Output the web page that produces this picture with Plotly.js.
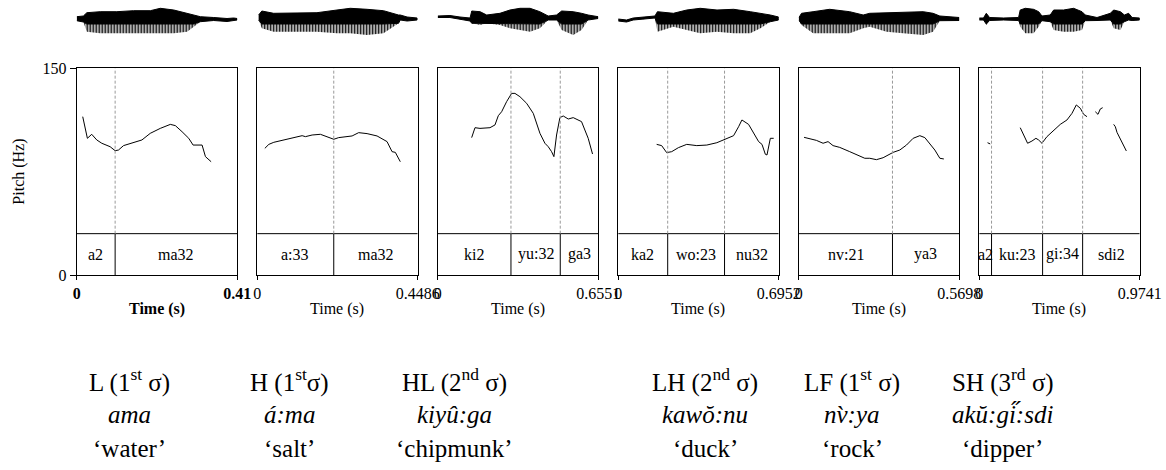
<!DOCTYPE html>
<html>
<head>
<meta charset="utf-8">
<script src="https://cdn.plot.ly/plotly-3.0.1.min.js"></script>
<style>html,body{margin:0;padding:0;background:#fff}#chart{width:1166px;height:470px}</style>
</head>
<body>
<div id="chart"></div>
<script>
// ---------- DATA ----------
const panelEnds = [0.41, 0.4486, 0.6551, 0.6952, 0.5698, 0.9741];
const endLabels = ['0.41', '0.4486', '0.6551', '0.6952', '0.5698', '0.9741'];

// pitch tracks (time s, Hz)
const p1Time = [0.0154,0.0273,0.0384,0.0513,0.0641,0.0854,0.0982,0.1068,0.1196,0.1409,0.1666,0.1879,0.2135,0.2392,0.2520,0.2691,0.2862,0.2973,0.3075,0.3203,0.3289,0.3434];
const p1Hz   = [114.9,99.2,102.1,98.0,95.6,93.1,90.2,90.7,93.9,95.6,98.0,102.8,106.4,109.3,108.4,104.0,99.2,94.3,94.3,94.3,85.9,82.2];
const p2Time = [0.0213,0.0325,0.0464,0.0743,0.1022,0.1256,0.1348,0.1535,0.1767,0.1954,0.2140,0.2278,0.2652,0.2836,0.3071,0.3350,0.3629,0.3769,0.3861,0.4000];
const p2Hz   = [91.9,94.8,96.3,98.0,99.2,101.1,100.4,101.6,102.1,100.4,98.5,99.7,100.9,103.3,102.6,100.9,96.8,89.5,89.0,82.2];
const p3Time = [0.1386,0.1522,0.1726,0.2134,0.2338,0.2474,0.2610,0.2813,0.3017,0.3153,0.3357,0.3629,0.3901,0.4173,0.4376,0.4512,0.4648,0.4743,0.4852,0.4988,0.5124,0.5328,0.5532,0.5736,0.5871,0.6007,0.6143,0.6320];
const p3Hz   = [99.7,106.9,106.4,106.9,108.9,115.6,118.5,125.8,131.8,131.8,129.4,124.6,117.3,102.8,95.6,93.1,89.5,85.9,101.6,114.2,115.4,113.2,114.2,112.5,111.3,105.2,99.2,87.8];
const p4Time = [0.1666,0.1883,0.2100,0.2317,0.2607,0.2969,0.3404,0.3838,0.4273,0.4562,0.4779,0.4997,0.5214,0.5359,0.5648,0.5866,0.6083,0.6228,0.6373,0.6445,0.6590,0.6735];
const p4Hz   = [94.8,93.9,88.8,89.5,92.4,94.8,93.9,94.3,96.0,98.0,99.2,101.1,107.6,112.5,109.3,102.8,96.8,94.8,87.6,87.1,99.2,99.2];
const p5Time = [0.0190,0.0391,0.0628,0.0865,0.1042,0.1220,0.1457,0.1812,0.2109,0.2346,0.2523,0.2760,0.2997,0.3352,0.3589,0.3826,0.4063,0.4300,0.4478,0.4655,0.4833,0.5011,0.5153];
const p5Hz   = [99.9,98.7,97.7,95.6,96.8,93.9,92.6,89.5,87.1,84.7,84.7,83.7,85.1,89.0,90.7,94.3,99.2,101.1,99.7,95.6,90.7,84.7,84.2];
const p6Time = [0.0506,0.0668,null,0.2491,0.2693,0.2936,0.3200,0.3443,0.3605,0.3807,0.4111,0.4516,0.4921,0.5326,0.5630,0.5893,0.6136,0.6339,0.6541,null,0.7047,0.7209,0.7351,0.7493,null,0.8161,0.8262,0.8364,0.8668,0.8931];
const p6Hz   = [96.0,95.1,null,106.9,101.6,95.6,97.2,99.2,98.0,95.6,100.4,105.2,109.3,112.5,117.3,123.4,121.0,116.6,114.9,null,118.5,116.6,120.5,121.4,null,109.3,107.6,103.5,96.8,90.0];

// segment boundaries (s) and syllable labels
const p1Bounds = [0.0982];
const p2Bounds = [0.2140];
const p3Bounds = [0.2990, 0.5002];
const p4Bounds = [0.2144, 0.4606];
const p5Bounds = [0.3329];
const p6Bounds = [0.0749, 0.3848, 0.6278];
const p1Labels = ['a2', 'ma32'];
const p2Labels = ['a:33', 'ma32'];
const p3Labels = ['ki2', 'yu:32', 'ga3'];
const p4Labels = ['ka2', 'wo:23', 'nu32'];
const p5Labels = ['nv:21', 'ya3'];
const p6Labels = ['a2', 'ku:23', 'gi:34', 'sdi2'];

// waveform envelopes (time s, upper / lower amplitude)
const w1Time = [0,0.017,0.026,0.060,0.1025,0.145,0.188,0.2135,0.248,0.282,0.299,0.316,0.350,0.384,0.401,0.41];
const w1Up   = [2.3,3,6.3,7.3,7.3,8.3,8.3,10.7,9,5.7,4,2.3,1.5,0.5,1,0.5];
const w1Low  = [-1.7,-3,-12.7,-14.3,-14.3,-14.3,-14.3,-14.3,-14.3,-12.7,-7.7,-2.7,-1.5,-2.5,-1.5,-1];
const w2Time = [0.004,0.013,0.046,0.1016,0.167,0.223,0.260,0.307,0.353,0.395,0.400,0.419,0.447];
const w2Up   = [4,8,5.7,6.3,6.3,9,10.7,9.7,8.3,4,4,2,1];
const w2Low  = [-1,-9.3,-12.7,-12.7,-12.7,-14.3,-14.3,-16,-14.3,-4.3,-1,-2,-1];
const w3Time = [0,0.050,0.091,0.132,0.139,0.173,0.200,0.254,0.295,0.336,0.377,0.417,0.451,0.485,0.506,0.553,0.587,0.614,0.655];
const w3Up   = [3,3.5,2,1,8,7.3,4,5.7,9,10.7,10.7,7.3,3,4,8,7.3,5.7,4,2.3];
const w3Low  = [1.5,1.5,0,-2,-4.3,-6,-4.3,-6,-9.3,-11,-12.7,-9.3,-1,-1,-11,-16,-11,-1,0.5];
const w4Time = [0,0.036,0.065,0.123,0.159,0.170,0.239,0.297,0.355,0.428,0.500,0.572,0.616,0.659,0.695];
const w4Up   = [0,-1,1,2,3,7.3,5.7,9,10.7,9,9.7,7.3,5.7,4,2];
const w4Low  = [-2,-3,-1,0,1,-12.7,-7.7,-11,-14.3,-12.7,-14.3,-14.3,-9.3,-2.7,-1];
const w5Time = [0,0.010,0.051,0.110,0.181,0.229,0.252,0.312,0.371,0.442,0.477,0.501,0.570];
const w5Up   = [1,5.7,7.3,9.7,7.3,4,5.7,6.3,7.3,7.3,5.7,3,1.5];
const w5Low  = [-1,-6,-14.3,-14.3,-14.3,-9.3,-7.7,-12.7,-14.3,-16,-12.7,-1.7,-1.5];
const w6Time = [0,0.026,0.043,0.063,0.148,0.239,0.249,0.280,0.330,0.361,0.381,0.431,0.452,0.512,0.573,0.624,0.644,0.715,0.796,0.816,0.857,0.881,0.907,0.928,0.974];
const w6Up   = [1,1,5.7,1.5,1,1.5,9,10.7,9.7,7.3,3,4,9,9,10.7,7.3,4,1.5,5.7,9,7.3,4,5.7,1.5,1];
const w6Low  = [-1,-1,-6,-1.5,-1,-1.5,-7.7,-14.3,-14.3,-7.7,-1.7,-2.7,-11,-12.7,-12.7,-11,-1.7,-1.5,-1,-9.3,-11,-2.7,-1,-1.5,-1];

// captions under the panels
const toneLabels = ['L (1<sup>st</sup> σ)', 'H (1<sup>st</sup>σ)', 'HL (2<sup>nd</sup> σ)', 'LH (2<sup>nd</sup> σ)', 'LF (1<sup>st</sup> σ)', 'SH (3<sup>rd</sup> σ)'];
const words = ['ama', 'á:ma', 'kiyû:ga', 'kawŏ:nu', 'nv\u0300:ya', 'akŭ:gi\u030B:sdi'];
const glosses = ['‘water’', '‘salt’', '‘chipmunk’', '‘duck’', '‘rock’', '‘dipper’'];

// ---------- BUILD ----------
const W = 1166, H = 470;
const FONT = '"Liberation Serif", "Times New Roman", serif';
const pitchT = [p1Time,p2Time,p3Time,p4Time,p5Time,p6Time];
const pitchH = [p1Hz,p2Hz,p3Hz,p4Hz,p5Hz,p6Hz];
const bounds = [p1Bounds,p2Bounds,p3Bounds,p4Bounds,p5Bounds,p6Bounds];
const labels = [p1Labels,p2Labels,p3Labels,p4Labels,p5Labels,p6Labels];
const wT = [w1Time,w2Time,w3Time,w4Time,w5Time,w6Time];
const wU = [w1Up,w2Up,w3Up,w4Up,w5Up,w6Up];
const wL = [w1Low,w2Low,w3Low,w4Low,w5Low,w6Low];
const tierTop = 30;
const coreDepth = -5;   // below this, the waveform is drawn as separate spikes

const panelLeft = 76.7, panelW = 160.5, panelStep = 180.5;
const pitchTopPx = 68.3, pitchBotPx = 275;
const waveTopPx = 3, waveBotPx = 36;
const captionX = [129, 289, 454, 705, 852, 1003];

const traces = [], shapes = [], annotations = [];
const layout = {
  width: W, height: H,
  margin: {l: 0, r: 0, t: 0, b: 0},
  paper_bgcolor: '#fff', plot_bgcolor: 'rgba(0,0,0,0)',
  showlegend: false,
  font: {family: FONT, color: '#000', size: 16}
};

for (let i = 0; i < 6; i++) {
  const n = i + 1;
  const xs = n === 1 ? '' : String(n);
  const ys = n === 1 ? '' : String(n);
  const wys = String(n + 6);
  const x0 = (panelLeft + i * panelStep) / W;
  const x1 = (panelLeft + i * panelStep + panelW) / W;
  const end = panelEnds[i];
  const bold = i === 0 ? 'bold' : 'normal';

  layout['xaxis' + xs] = {
    domain: [x0, x1], range: [0, end], anchor: 'y' + ys,
    showline: true, mirror: true, linecolor: '#000', linewidth: 1,
    showgrid: false, zeroline: false,
    tickmode: 'array', tickvals: [0, end], ticktext: ['0', endLabels[i]],
    ticks: 'outside', ticklen: 4, tickcolor: '#000',
    tickfont: {family: FONT, size: 16, color: '#000', weight: bold}
  };
  layout['yaxis' + ys] = {
    domain: [(H - pitchBotPx) / H, (H - pitchTopPx) / H], range: [0, 150], anchor: 'x' + xs,
    showline: true, mirror: true, linecolor: '#000', linewidth: 1,
    showgrid: false, zeroline: false,
    tickmode: 'array', tickvals: [0, 150],
    ticks: i === 0 ? 'outside' : '', ticklen: 6, tickcolor: '#000',
    showticklabels: i === 0,
    tickfont: {family: FONT, size: 16, color: '#000'}
  };
  layout['yaxis' + wys] = {
    domain: [(H - waveBotPx) / H, (H - waveTopPx) / H], range: [-17, 16], anchor: 'x' + xs,
    visible: false, fixedrange: true
  };

  // waveform: solid core + striped lower spikes
  const t = wT[i], up = wU[i], low = wL[i];
  const core = low.map(v => Math.max(v, coreDepth));
  const rev = a => a.slice().reverse();
  traces.push({
    x: t.concat(rev(t)), y: core.concat(rev(low)), xaxis: 'x' + xs, yaxis: 'y' + wys,
    type: 'scatter', mode: 'lines', fill: 'toself', fillcolor: '#000',
    fillpattern: {shape: '|', fgcolor: '#000', bgcolor: 'rgba(255,255,255,0)', size: 3, solidity: 0.55},
    line: {color: 'rgba(0,0,0,0)', width: 0}, hoverinfo: 'skip'
  });
  traces.push({
    x: t.concat(rev(t)), y: up.concat(rev(core)), xaxis: 'x' + xs, yaxis: 'y' + wys,
    type: 'scatter', mode: 'lines', fill: 'toself', fillcolor: '#000',
    line: {color: '#000', width: 1}, hoverinfo: 'skip'
  });
  // pitch track
  traces.push({
    x: pitchT[i], y: pitchH[i], xaxis: 'x' + xs, yaxis: 'y' + ys,
    type: 'scatter', mode: 'lines', connectgaps: false,
    line: {color: '#000', width: 1}
  });

  // tier
  shapes.push({type: 'line', xref: 'x' + xs, yref: 'y' + ys, x0: 0, x1: end, y0: tierTop, y1: tierTop, line: {color: '#000', width: 1}});
  const edges = [0].concat(bounds[i]).concat([end]);
  bounds[i].forEach(b => {
    shapes.push({type: 'line', xref: 'x' + xs, yref: 'y' + ys, x0: b, x1: b, y0: 0, y1: tierTop, line: {color: '#000', width: 1}});
    shapes.push({type: 'line', xref: 'x' + xs, yref: 'y' + ys, x0: b, x1: b, y0: tierTop, y1: 150, line: {color: '#999', width: 1, dash: '3px,2px'}});
  });
  labels[i].forEach((lab, k) => {
    annotations.push({
      xref: 'x' + xs, yref: 'y' + ys, x: (edges[k] + edges[k + 1]) / 2, y: tierTop / 2,
      text: lab, showarrow: false, font: {family: FONT, size: 16, color: '#000'}
    });
  });

  // x title
  annotations.push({
    xref: 'x' + xs, yref: 'paper', x: end / 2, y: (H - 309) / H, yanchor: 'middle',
    text: 'Time (s)', showarrow: false, font: {family: FONT, size: 16, color: '#000', weight: bold}
  });

  // captions
  const rows = [[toneLabels[i], 380], ['<i>' + words[i] + '</i>', 414], [glosses[i], 448]];
  rows.forEach(r => {
    annotations.push({
      xref: 'paper', yref: 'paper', x: captionX[i] / W, y: (H - r[1]) / H,
      xanchor: 'center', yanchor: 'middle', text: r[0], showarrow: false,
      font: {family: FONT, size: 25, color: '#000'}
    });
  });
}

// y title
annotations.push({
  xref: 'paper', yref: 'paper', x: 19 / W, y: (H - (pitchTopPx + pitchBotPx) / 2) / H,
  xanchor: 'center', yanchor: 'middle', textangle: -90,
  text: 'Pitch (Hz)', showarrow: false, font: {family: FONT, size: 16, color: '#000'}
});

layout.shapes = shapes;
layout.annotations = annotations;

Plotly.newPlot('chart', traces, layout, {displayModeBar: false, staticPlot: true});
</script>
</body>
</html>
